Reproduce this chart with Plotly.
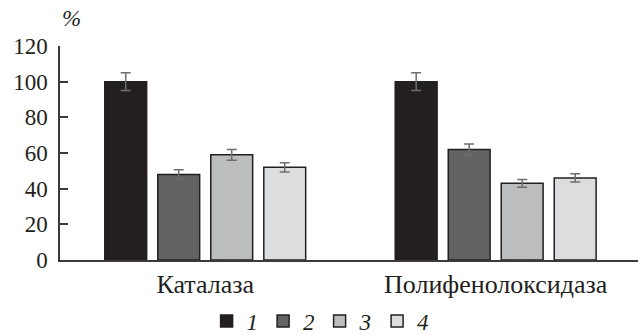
import plotly.graph_objects as go

categories = ["Каталаза", "Полифенолоксидаза"]
series_names = ["1", "2", "3", "4"]
values = [
    [100, 100],
    [48, 62],
    [59, 43],
    [52, 46],
]
errors = [
    [5, 5],
    [2.6, 3],
    [3, 2.2],
    [2.6, 2.3],
]
colors = ["#231f20", "#636363", "#bcbdbf", "#dcdddf"]
y_ticks = [0, 20, 40, 60, 80, 100, 120]

fig = go.Figure()
for name, vals, errs, col in zip(series_names, values, errors, colors):
    fig.add_trace(go.Bar(
        x=categories, y=vals, name=name,
        marker=dict(color=col, line=dict(color="#231f20", width=1.5)),
        error_y=dict(type="data", array=errs, color="#6d6e70", thickness=1.5, width=5),
    ))

serif = "Liberation Serif"
ink = "#231f20"
fig.update_layout(
    width=638, height=335,
    margin=dict(l=60, r=0, t=46, b=75, autoexpand=False),
    paper_bgcolor="white", plot_bgcolor="white",
    barmode="group", bargap=0.27, bargroupgap=0.21,
    font=dict(family=serif, size=22, color=ink),
    showlegend=True,
    legend=dict(orientation="h", x=0.45, xanchor="center",
                yref="container", y=14 / 335, yanchor="middle",
                font=dict(family=serif, size=23, color=ink, style="italic"),
                itemwidth=30, tracegroupgap=0),
    xaxis=dict(range=[-0.5, 1.49], showline=True, linecolor="#3a3a3a", linewidth=1.5,
               ticks="", showgrid=False, zeroline=False,
               tickfont=dict(family=serif, size=26, color=ink)),
    yaxis=dict(range=[0, 120], tickvals=y_ticks, showline=True, linecolor="#3a3a3a",
               linewidth=1.5, ticks="inside", ticklen=8, tickcolor="#3a3a3a",
               tickwidth=1.5, showgrid=False, zeroline=False, ticklabelstandoff=6,
               tickfont=dict(family=serif, size=23, color=ink)),
    annotations=[dict(text="%", xref="paper", yref="paper", x=0.0, y=1.06,
                      xanchor="left", yanchor="bottom", showarrow=False,
                      font=dict(family=serif, size=23, color=ink, style="italic"))],
)

fig.write_html("out.html")
